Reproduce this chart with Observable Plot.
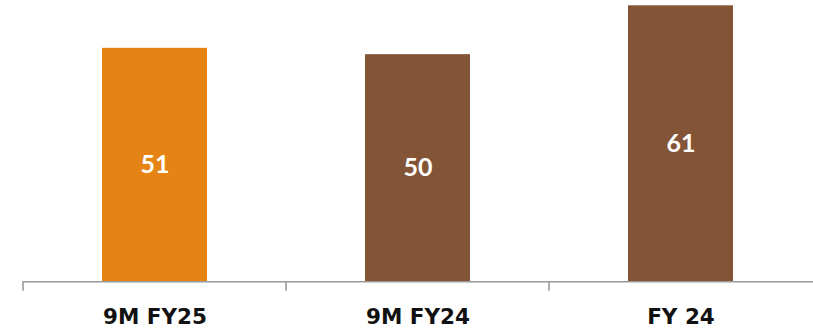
<!DOCTYPE html>
<html>
<head>
<meta charset="utf-8">
<script src="https://cdn.jsdelivr.net/npm/d3@7"></script>
<script src="https://cdn.jsdelivr.net/npm/@observablehq/plot@0.6"></script>
<style>
  html, body { margin: 0; padding: 0; background: #fff; }
  #chart svg { display: block; }
</style>
</head>
<body>
<div id="chart"></div>
<script>
const categories = ["9M FY25", "9M FY24", "FY 24"];
const barHeights = [51.6, 50.2, 61.0];   // bar heights
const valueLabels = ["51", "50", "61"];  // printed labels
const colors = ["#E58314", "#845436", "#845436"];

const data = categories.map((c, i) => ({cat: c, h: barHeights[i], label: valueLabels[i], color: colors[i]}));

const boundaryTicks = (index, scales, values, dims) => {
  const x = scales.x, y = scales.y;
  const bw = typeof x.bandwidth === "function" ? x.bandwidth() : (x.bandwidth || 0);
  const step = x(categories[1]) - x(categories[0]);
  const y0 = y(0);
  const g = d3.create("svg:g");
  categories.forEach(c => {
    const bx = x(c) + bw / 2 - step / 2;
    g.append("line")
      .attr("x1", bx).attr("x2", bx)
      .attr("y1", y0).attr("y2", y0 + 9.5)
      .attr("stroke", "#9a9a9a").attr("stroke-width", 1.6);
  });
  return g.node();
};

const chart = Plot.plot({
  width: 813,
  height: 332,
  marginLeft: 23,
  marginRight: 0,
  marginTop: 5.3,
  marginBottom: 50.7,
  style: {fontFamily: "DejaVu Sans", background: "#fff"},
  x: {domain: categories, paddingInner: 0.6, paddingOuter: 0.3, label: null},
  y: {domain: [0, 61], axis: null},
  marks: [
    Plot.barY(data, {x: "cat", y: "h", fill: d => d.color}),
    Plot.ruleY([0], {stroke: "#9a9a9a", strokeWidth: 1.6}),
    boundaryTicks,
    Plot.text(data, {x: "cat", y: d => d.h / 2, text: "label", fill: "#fff",
      fontFamily: "Lato", fontWeight: "bold", fontSize: 25, dy: 0}),
    Plot.axisX({tickSize: 0, tickPadding: 27, fontSize: 21.5, fontWeight: "bold",
      fill: "#111", fontFamily: "DejaVu Sans", label: null})
  ]
});
document.getElementById("chart").append(chart);
</script>
</body>
</html>
